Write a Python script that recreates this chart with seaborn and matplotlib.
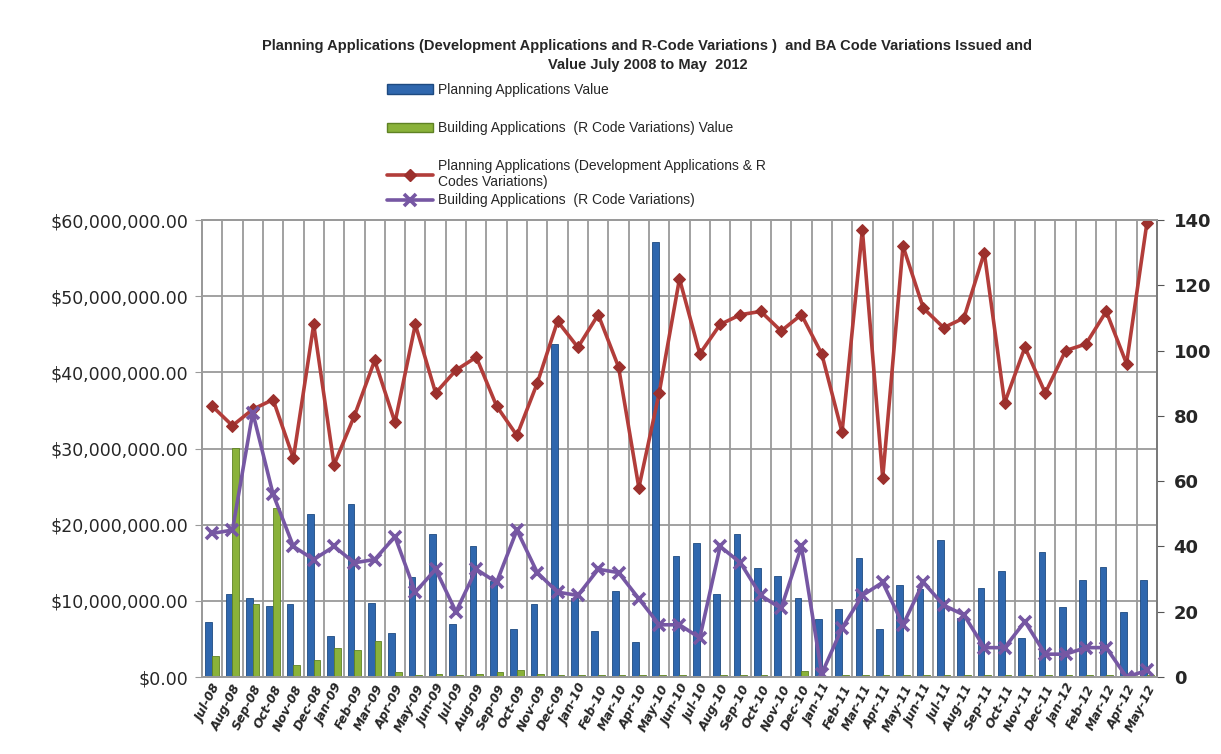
import numpy as np
import pandas as pd
import matplotlib
matplotlib.use("Agg")
import matplotlib.pyplot as plt
import seaborn as sns
from matplotlib.patches import Patch
from matplotlib.lines import Line2D
from matplotlib.ticker import FuncFormatter, FixedLocator

months = [
    "Jul-08", "Aug-08", "Sep-08", "Oct-08", "Nov-08", "Dec-08",
    "Jan-09", "Feb-09", "Mar-09", "Apr-09", "May-09", "Jun-09",
    "Jul-09", "Aug-09", "Sep-09", "Oct-09", "Nov-09", "Dec-09",
    "Jan-10", "Feb-10", "Mar-10", "Apr-10", "May-10", "Jun-10",
    "Jul-10", "Aug-10", "Sep-10", "Oct-10", "Nov-10", "Dec-10",
    "Jan-11", "Feb-11", "Mar-11", "Apr-11", "May-11", "Jun-11",
    "Jul-11", "Aug-11", "Sep-11", "Oct-11", "Nov-11", "Dec-11",
    "Jan-12", "Feb-12", "Mar-12", "Apr-12", "May-12",
]

# values in $ millions
planning_value = [
    7.2, 10.9, 10.4, 9.3, 9.6, 21.4,
    5.4, 22.7, 9.7, 5.8, 13.1, 18.8,
    7.0, 17.2, 12.6, 6.3, 9.6, 43.7,
    10.4, 6.0, 11.3, 4.6, 57.1, 15.9,
    17.6, 10.9, 18.8, 14.3, 13.3, 10.4,
    7.6, 8.9, 15.6, 6.3, 12.1, 11.6,
    18.0, 7.7, 11.7, 13.9, 5.1, 16.4,
    9.2, 12.7, 14.4, 8.5, 12.7,
]
building_value = [
    2.8, 30.1, 9.6, 22.2, 1.6, 2.2,
    3.8, 3.5, 4.7, 0.6, 0.2, 0.4,
    0.2, 0.4, 0.6, 0.9, 0.4, 0.2,
    0.3, 0.3, 0.3, 0.2, 0.2, 0.2,
    0.1, 0.3, 0.2, 0.3, 0.1, 0.8,
    0.1, 0.2, 0.2, 0.2, 0.3, 0.2,
    0.2, 0.3, 0.2, 0.3, 0.2, 0.2,
    0.2, 0.2, 0.2, 0.1, 0.2,
]

planning_count = [
    83, 77, 82, 85, 67, 108,
    65, 80, 97, 78, 108, 87,
    94, 98, 83, 74, 90, 109,
    101, 111, 95, 58, 87, 122,
    99, 108, 111, 112, 106, 111,
    99, 75, 137, 61, 132, 113,
    107, 110, 130, 84, 101, 87,
    100, 102, 112, 96, 139,
]
building_count = [
    44, 45, 81, 56, 40, 36,
    40, 35, 36, 43, 26, 33,
    20, 33, 29, 45, 32, 26,
    25, 33, 32, 24, 16, 16,
    12, 40, 35, 25, 21, 40,
    1, 15, 25, 29, 16, 29,
    22, 19, 9, 9, 17, 7,
    7, 9, 9, 0, 2,
]

labels = [
    "Planning Applications Value",
    "Building Applications  (R Code Variations) Value",
    "Planning Applications (Development Applications & R\nCodes Variations)",
    "Building Applications  (R Code Variations)",
]
title = ("Planning Applications (Development Applications and R-Code Variations )  "
         "and BA Code Variations Issued and\nValue July 2008 to May  2012")

blue = "#2F67AE"
green = "#8AB23A"
red = "#B23D3A"
purple = "#7657A3"
grid_c = "#9A9A9A"

sns.set_style("white")
plt.rcParams["font.family"] = ["DejaVu Sans"]
narrow = ["Liberation Sans", "DejaVu Sans"]

bars = pd.DataFrame({
    "month": months * 2,
    "series": [labels[0]] * len(months) + [labels[1]] * len(months),
    "value": [v * 1e6 for v in planning_value] + [v * 1e6 for v in building_value],
})
lines = pd.DataFrame({
    "pos": np.arange(len(months)),
    "planning": planning_count,
    "building": building_count,
})

fig = plt.figure(figsize=(12.21, 7.54), dpi=100)
ax = fig.add_axes([0.1654, 0.1021, 0.7822, 0.6061])

sns.barplot(data=bars, x="month", y="value", hue="series", order=months,
            palette=[blue, green], width=0.66, ax=ax, legend=False,
            saturation=1, edgecolor="none")
for i, patch in enumerate(ax.patches):
    patch.set_edgecolor("#1E4A80" if i < len(months) else "#5F8224")
    patch.set_linewidth(0.6)

ax.set_ylim(0, 60e6)
ax.set_xlim(-0.5, len(months) - 0.5)
ax.yaxis.set_major_locator(FixedLocator(np.arange(0, 60e6 + 1, 10e6)))
ax.yaxis.set_major_formatter(FuncFormatter(lambda v, p: "${:,.2f}".format(v)))
ax.set_xticks(np.arange(len(months)))
ax.set_xticks(np.arange(len(months) + 1) - 0.5, minor=True)
ax.set_xticklabels(months, rotation=63, ha="right", rotation_mode="anchor",
                   fontsize=9, fontweight="bold", fontstyle="italic")
ax.tick_params(axis="x", which="major", length=0, pad=4)
ax.tick_params(axis="x", which="minor", length=5, color=grid_c)
ax.tick_params(axis="y", labelsize=12.5, length=5, color=grid_c, pad=5)
ax.set_axisbelow(True)
ax.grid(True, axis="y", color=grid_c, linewidth=1.3)
ax.grid(True, axis="x", which="minor", color=grid_c, linewidth=1.3)
ax.set_xlabel("")
ax.set_ylabel("")
for s in ax.spines.values():
    s.set_color(grid_c)
    s.set_linewidth(1.3)

ax2 = ax.twinx()
sns.lineplot(data=lines, x="pos", y="planning", ax=ax2, color=red, linewidth=2.6,
             marker="D", markersize=6.5, markerfacecolor="#9C302D",
             markeredgecolor="#9C302D")
sns.lineplot(data=lines, x="pos", y="building", ax=ax2, color=purple, linewidth=2.6,
             marker="x", markersize=9, markeredgewidth=2.6, markeredgecolor=purple)
ax2.set_ylim(0, 140)
ax2.set_xlim(-0.5, len(months) - 0.5)
ax2.set_yticks(np.arange(0, 141, 20))
ax2.tick_params(axis="y", labelsize=13, length=5, color="#555555", pad=7)
for t in ax2.get_yticklabels():
    t.set_fontweight("bold")
ax2.set_xlabel("")
ax2.set_ylabel("")
for name, s in ax2.spines.items():
    s.set_color("#777777" if name == "right" else grid_c)
    s.set_linewidth(1.3)

fig.text(0.5303, 0.927, title, ha="center", va="center", fontsize=10.5,
         fontweight="bold", family=narrow, linespacing=1.45)

h_bars = [Patch(facecolor=blue, edgecolor="#1E4A80"),
          Patch(facecolor=green, edgecolor="#5F8224")]
h_lines = [Line2D([], [], color=red, lw=2.6, marker="D", markersize=6,
                  markerfacecolor="#9C302D", markeredgecolor="#9C302D"),
           Line2D([], [], color=purple, lw=2.6, marker="x", markersize=8,
                  markeredgewidth=2.6)]
leg_kw = dict(loc="upper left", frameon=False, handlelength=3.3, handletextpad=0.35,
              borderpad=0, borderaxespad=0, prop={"family": narrow, "size": 10})
fig.legend(h_bars, labels[:2], bbox_to_anchor=(387 / 1221, 1 - 83 / 754),
           labelspacing=1.75, **leg_kw)
fig.legend(h_lines, labels[2:], bbox_to_anchor=(387 / 1221, 1 - 159 / 754),
           labelspacing=0.3, **leg_kw)

fig.savefig("out.png", dpi=100)
